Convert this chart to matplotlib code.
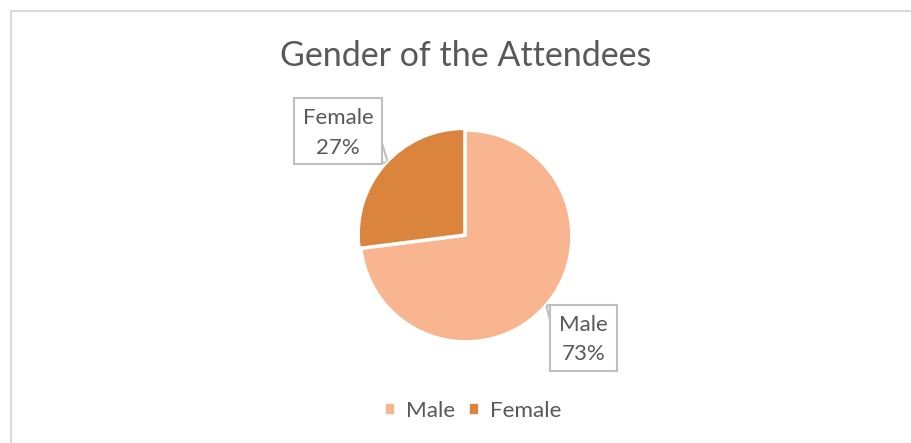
import matplotlib
matplotlib.use("Agg")
import matplotlib.pyplot as plt
from matplotlib.patches import Polygon, Rectangle

categories = ["Male", "Female"]
values = [73, 27]
colors = ["#F8B58F", "#DB843D"]
title = "Gender of the Attendees"

W, H = 911, 443
fig = plt.figure(figsize=(W / 100, H / 100), dpi=100)
plt.rcParams['font.family'] = ['Lato', 'DejaVu Sans']
TXT = "#595959"

# overlay axes in pixel coordinates for border / callouts
ov = fig.add_axes([0, 0, 1, 1])
ov.set_xlim(0, W)
ov.set_ylim(H, 0)
ov.axis("off")
ov.plot([10.5, 10.5, W + 5], [H + 5, 10.5, 10.5], color="#D9D9D9", lw=1.5, solid_capstyle="butt")

# pie axes: center (466, 236) radius 105 px
cx, cy, r = 466, 236, 105
lim = 1.15
half = r * lim
pax = fig.add_axes([(cx - half) / W, (H - cy - half) / H, 2 * half / W, 2 * half / H])
wedges, _ = pax.pie(values, colors=colors, startangle=90, counterclock=False,
                    explode=[0, 0.025], wedgeprops=dict(edgecolor="white", linewidth=1.2))
pax.set_xlim(-lim, lim)
pax.set_ylim(-lim, lim)
pax.set_aspect("equal")
pax.axis("off")

fig.text(cx / W, 1 - 56 / H, title, ha="center", va="center", fontsize=24.5, color=TXT)

def callout(x0, y0, x1, y1, label, pct, ptr):
    ov.add_patch(Polygon(ptr, closed=True, facecolor="white", edgecolor="#BFBFBF", lw=1.5, zorder=3))
    ov.add_patch(Rectangle((x0, y0), x1 - x0, y1 - y0, facecolor="white", edgecolor="#BFBFBF", lw=1.5, zorder=4))
    xm = (x0 + x1) / 2
    ov.text(xm, y0 + (y1 - y0) * 0.30, label, ha="center", va="center", fontsize=16, color=TXT, zorder=5)
    ov.text(xm, y0 + (y1 - y0) * 0.75, pct, ha="center", va="center", fontsize=16, color=TXT, zorder=5)

callout(294, 98, 382, 164, categories[1], f"{values[1]}%", [(381, 140), (388, 163), (381, 162)])
callout(550, 305, 617, 371, categories[0], f"{values[0]}%", [(551, 307), (546, 304), (551, 324)])

fig.legend(wedges, categories, loc="center", bbox_to_anchor=((cx + 7) / W, 1 - 411 / H), ncol=2,
           frameon=False, fontsize=16.2, handlelength=0.45, handleheight=0.45, handletextpad=0.5,
           columnspacing=0.6, labelcolor=TXT)

fig.savefig("out.png", dpi=100, facecolor="white")
